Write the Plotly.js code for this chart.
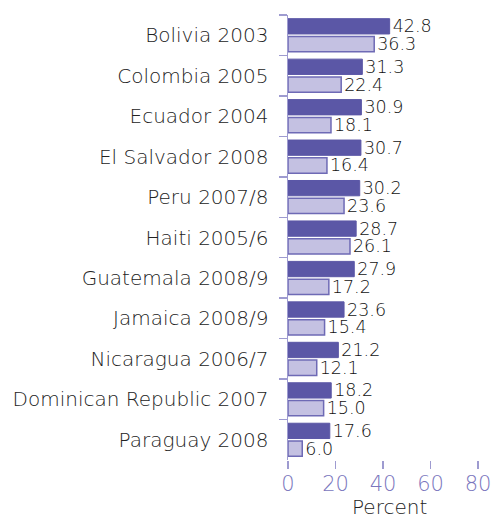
<!DOCTYPE html>
<html><head><meta charset="utf-8">
<script src="https://cdn.plot.ly/plotly-3.0.1.min.js"></script>
<style>html,body{margin:0;padding:0;background:#fff}#c{width:494px;height:518px}</style>
</head><body><div id="c"></div>
<script>
const categories = ["Bolivia 2003","Colombia 2005","Ecuador 2004","El Salvador 2008","Peru 2007/8","Haiti 2005/6","Guatemala 2008/9","Jamaica 2008/9","Nicaragua 2006/7","Dominican Republic 2007","Paraguay 2008"];
const seriesA = [42.8,31.3,30.9,30.7,30.2,28.7,27.9,23.6,21.2,18.2,17.6];
const seriesB = [36.3,22.4,18.1,16.4,23.6,26.1,17.2,15.4,12.1,15.0,6.0];
const xTicks = [0,20,40,60,80];
const xTitle = "Percent";

const font = "'DejaVu Sans', sans-serif";
const traces = [
  {type:'bar', orientation:'h', y:categories, x:seriesA,
   marker:{color:'#5b57a6', line:{color:'#5b57a6', width:1}},
   text:seriesA.map(v=>v.toFixed(1)), textposition:'outside', cliponaxis:false, constraintext:'none',
   textfont:{size:17.5, color:'#111', family:font, weight:300}, hoverinfo:'none'},
  {type:'bar', orientation:'h', y:categories, x:seriesB,
   marker:{color:'#c4c1e2', line:{color:'#6e6ab5', width:1.5}},
   text:seriesB.map(v=>v.toFixed(1)), textposition:'outside', cliponaxis:false, constraintext:'none',
   textfont:{size:17.5, color:'#111', family:font, weight:300}, hoverinfo:'none'}
];
const layout = {
  width:494, height:518, margin:{l:288, r:16, t:15, b:58},
  paper_bgcolor:'#fff', plot_bgcolor:'#fff', showlegend:false,
  barmode:'group', bargap:0.12, bargroupgap:0.14,
  font:{family:font, color:'#222'},
  xaxis:{range:[0,80], tickvals:xTicks, showgrid:false, zeroline:false, showline:false,
    ticks:'outside', ticklen:8, tickcolor:'#9e9bd0', tickwidth:1.5,
    ticklabelstandoff:-3,
    tickfont:{size:21, color:'#7a76bd', family:font, weight:300}},
  yaxis:{autorange:'reversed', type:'category', showgrid:false, zeroline:false,
    showline:true, linecolor:'#9e9bd0', linewidth:1.5,
    ticks:'outside', tickson:'boundaries', ticklen:8, tickcolor:'#9e9bd0', tickwidth:1.5,
    ticklabelstandoff:14,
    tickfont:{size:20, color:'#222', family:font, weight:300}},
  annotations:[{text:xTitle, xref:'paper', yref:'paper', x:0.5, y:0, xshift:6, yshift:-47,
    xanchor:'center', yanchor:'middle', showarrow:false, borderpad:0,
    font:{size:20, color:'#222', family:font, weight:300}}]
};
Plotly.newPlot('c', traces, layout, {displayModeBar:false, staticPlot:true});
</script></body></html>
